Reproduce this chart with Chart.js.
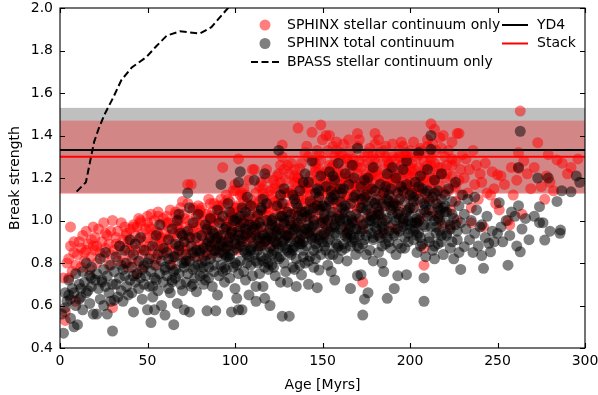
<!DOCTYPE html>
<html>
<head>
<meta charset="utf-8">
<script src="https://cdn.jsdelivr.net/npm/chart.js@4.4.1/dist/chart.umd.min.js"></script>
<style>
  html, body { margin: 0; padding: 0; background: #fff; }
</style>
</head>
<body>
<canvas id="myChart" width="598" height="395"></canvas>
<script>
// SPHINX stellar continuum only (red)
const stellarAge = [
  2,3,3,4,5,5,6,6,7,8,9,9,
  10,11,12,12,13,14,15,15,16,17,18,18,19,19,
  20,21,21,22,23,24,25,25,26,27,28,28,29,29,30,
  30,31,32,33,33,34,35,35,36,37,37,38,38,39,39,40,40,
  41,41,42,43,43,44,45,45,46,46,47,47,48,48,49,49,50,50,44,
  51,51,52,52,53,53,54,54,55,55,56,56,57,57,58,58,59,59,60,60,55,
  61,61,62,62,63,63,64,64,65,65,66,66,67,67,68,68,69,69,70,70,64,67,70,
  71,71,72,72,73,73,73,74,74,75,75,76,76,77,77,78,78,79,79,80,80,72,75,78,80,
  81,81,82,82,83,83,84,84,85,85,86,86,87,87,88,88,89,89,90,90,82,84,86,88,90,85,87,
  91,91,92,92,93,93,94,94,95,95,96,96,97,97,98,98,99,99,100,100,93,95,97,99,92,94,96,98,100,
  101,101,102,102,102,103,103,104,104,105,105,106,106,107,107,108,108,109,109,110,110,101,103,105,107,109,104,106,108,110,103,
  111,111,111,112,112,113,113,114,114,115,115,116,116,117,117,118,118,118,119,119,120,120,112,114,116,118,120,113,115,117,119,
  121,121,122,122,123,123,124,124,124,125,125,126,126,127,127,127,128,128,129,129,130,130,121,123,125,127,129,122,124,126,128,130,126,
  131,131,132,132,133,133,134,134,135,135,136,136,136,137,137,138,138,139,139,140,140,140,131,133,135,137,139,132,134,136,138,140,134,
  141,141,142,142,143,143,144,144,145,145,146,146,147,147,148,148,149,149,149,150,150,142,144,146,148,150,141,143,145,147,149,145,147,
  151,151,152,152,152,153,153,154,154,155,155,156,156,157,157,158,158,159,159,160,160,151,153,155,157,159,152,154,156,158,160,156,158,
  161,161,162,162,163,163,164,164,165,165,166,166,167,167,168,168,169,169,170,170,170,162,164,166,168,170,161,163,165,167,169,
  171,171,172,172,173,173,174,174,175,175,176,176,177,177,178,178,179,179,180,180,171,173,175,177,179,172,174,176,178,180,173,
  181,181,182,182,183,183,184,184,185,185,186,186,187,187,188,188,189,189,190,190,182,184,186,188,190,181,185,187,189,
  191,191,192,192,193,193,194,194,195,195,196,196,197,197,198,198,198,199,199,200,200,192,194,196,198,200,193,195,197,
  201,201,202,202,203,203,204,204,205,205,206,206,207,207,208,208,208,209,209,210,210,202,204,206,208,210,205,
  211,211,212,212,212,213,213,214,214,215,215,216,216,217,217,218,218,219,219,220,220,214,216,218,212,
  221,222,222,223,224,224,225,226,226,227,228,228,229,229,230,223,227,
  231,232,233,234,235,236,237,238,239,240,235,
  241,242,243,244,246,247,248,249,250,
  251,252,254,256,257,258,259,
  261,262,262,263,264,265,267,269,
  271,273,275,277,278,279,280,
  282,284,287,290,292,296,
  42,46,52,56,61,66,71,76,81,86,
  91,96,101,106,111,116,121,126,131,136,
  141,146,151,156,161,166,171,176,181,186,
  191,196,201,206,211,216,221,226,98,104,
  114,124,134,144,154,164,174,184,194,204,
  214,224,58,68,78,88,118,128,138,148,
  158,168,178,188,198,208,
  8,14,20,26,32,38,44,50,56,62,
  68,74,80,86,92,98,104,110,116,122,
  128,134,140,146,152,158,164,170,176,182,
  188,194,200,206,212,218,224,100,130,160,
  190,210,150,170,180,200
];
const stellarBreak = [
  0.73,0.53,0.57,0.80,0.82,0.73,0.97,0.88,0.76,0.85,0.62,0.79,
  0.84,0.90,0.78,0.87,0.93,0.81,0.86,0.95,0.89,0.77,0.91,0.83,0.97,0.88,
  0.92,0.80,0.88,0.96,0.85,0.90,0.83,0.99,0.87,0.93,0.79,0.89,0.95,0.84,0.59,
  1.00,0.86,0.92,0.81,0.95,0.88,0.84,0.99,0.91,0.97,0.80,0.87,0.93,0.78,0.90,0.85,0.96,
  0.89,0.82,0.98,0.86,0.93,0.80,0.91,1.01,0.87,0.99,0.84,0.94,0.90,0.78,0.96,0.86,0.92,1.02,0.75,
  0.88,0.97,0.83,1.03,0.93,0.86,1.00,0.90,0.82,0.95,0.88,1.04,0.92,0.85,0.98,0.89,1.01,0.84,0.94,0.87,0.79,
  0.91,1.02,0.86,0.97,0.93,1.05,0.89,0.82,0.99,0.94,0.87,1.03,0.92,0.84,1.00,0.96,0.88,1.06,0.93,0.85,0.79,0.97,1.09,
  0.90,1.03,0.86,0.97,1.17,0.93,1.08,0.88,1.00,1.17,0.84,0.95,1.05,0.91,0.99,0.87,1.02,0.94,1.07,0.89,0.98,0.81,0.92,0.83,1.04,
  0.93,1.06,0.88,1.00,0.95,0.85,1.03,0.91,0.98,1.10,0.87,0.96,1.04,0.90,0.99,1.08,0.86,0.94,1.07,0.92,0.83,0.97,1.01,0.89,1.00,0.93,0.84,
  0.95,1.05,0.89,1.00,1.25,0.93,1.08,0.87,0.98,1.12,0.91,1.03,0.96,1.09,0.88,1.01,0.94,1.14,0.99,1.06,0.85,0.97,0.92,1.04,1.10,0.90,1.00,0.95,1.17,
  0.97,1.07,1.29,0.91,1.02,1.12,0.88,0.99,1.05,0.94,1.15,1.01,0.90,1.08,0.96,1.19,0.93,1.03,1.10,0.98,1.24,0.86,1.00,1.09,0.92,0.95,1.13,1.06,1.01,0.89,0.94,
  1.24,0.98,1.06,0.92,1.13,1.02,0.95,1.09,0.88,1.00,1.18,0.94,1.05,1.11,0.97,1.24,1.03,0.91,1.08,0.99,1.14,0.93,1.01,1.16,0.89,1.06,1.02,0.96,1.10,0.90,1.04,
  1.00,1.12,0.94,1.07,1.17,0.97,1.21,1.03,0.90,1.10,0.99,1.05,1.15,1.355,1.30,0.95,1.08,1.01,1.19,0.92,1.04,1.13,0.88,1.09,1.22,1.02,0.98,1.15,0.96,1.11,1.06,0.93,1.26,
  1.06,0.96,1.14,1.01,1.09,0.93,1.18,1.03,1.18,0.99,1.435,1.11,1.05,1.245,0.97,1.15,1.07,1.02,1.12,1.32,1.08,0.94,1.22,1.13,1.04,0.91,1.17,1.27,0.98,1.20,1.10,1.03,1.24,
  1.10,0.99,1.16,1.04,1.21,0.95,1.415,1.08,1.13,1.02,1.25,1.07,1.19,0.97,1.24,1.11,1.45,1.285,1.05,1.14,1.00,1.30,1.18,0.92,1.06,1.22,1.35,1.12,1.28,1.09,1.17,1.01,1.33,
  1.12,1.01,1.40,1.21,1.07,1.16,0.96,1.40,1.10,1.25,1.04,1.19,1.13,1.08,1.30,1.37,1.15,1.02,1.23,1.11,1.28,0.93,1.33,1.18,1.20,1.06,0.98,1.26,1.35,1.09,1.17,1.00,1.22,
  1.14,1.03,1.24,1.09,1.18,0.97,1.29,1.12,1.06,1.21,1.33,1.15,1.01,1.19,1.26,1.08,1.13,0.99,1.41,1.22,1.05,1.36,0.94,1.27,1.17,1.10,1.31,1.20,1.38,1.11,1.16,
  1.17,1.06,1.25,1.11,0.71,1.20,1.14,1.30,1.09,1.22,1.02,1.27,1.16,1.34,1.12,1.04,1.23,1.18,1.29,1.08,1.38,0.96,1.15,1.21,1.31,1.00,1.19,1.13,1.26,1.36,1.10,
  1.15,1.27,1.05,1.21,1.32,1.10,1.18,1.01,1.24,1.13,1.35,1.07,1.20,1.28,1.16,0.97,1.11,1.25,1.19,1.30,1.38,0.94,1.14,1.22,1.09,1.03,1.33,1.17,1.06,
  1.20,1.08,1.29,1.14,1.03,1.24,1.17,1.33,1.11,1.26,1.00,1.19,1.31,1.13,1.32,1.22,1.05,1.16,1.28,1.10,1.25,0.96,1.21,1.35,1.15,1.18,1.07,1.37,1.23,
  1.16,1.27,1.37,1.06,1.21,1.12,1.30,0.99,1.18,1.25,1.09,1.33,1.14,1.22,0.87,0.79,1.28,1.04,1.19,1.11,1.35,1.24,1.15,1.01,1.20,1.26,1.31,
  1.23,1.10,1.455,1.29,1.15,1.36,1.04,1.19,1.27,1.12,1.33,1.08,1.22,1.16,1.39,0.98,1.25,1.40,1.13,1.20,1.30,1.43,1.02,1.34,1.18,
  1.26,1.14,1.33,1.05,1.21,1.37,1.17,1.28,1.09,1.41,1.41,1.19,1.24,1.12,1.31,0.97,1.00,
  1.20,1.29,1.13,1.24,1.06,1.33,1.17,1.26,1.10,1.22,0.99,
  1.18,0.97,1.27,1.13,1.12,1.23,1.15,1.08,1.215,
  1.05,1.21,1.17,1.00,0.98,1.25,1.12,
  1.19,1.32,1.245,1.515,1.03,1.28,1.22,1.15,
  1.25,1.366,1.16,1.10,1.21,1.31,1.18,
  1.14,1.285,1.27,1.22,1.25,1.29,
  0.97,1.00,0.96,1.02,0.99,1.04,1.01,1.06,1.02,1.08,
  1.04,1.10,1.06,1.12,1.08,1.15,1.10,1.18,1.13,1.20,
  1.15,1.23,1.18,1.26,1.20,1.24,1.28,1.19,1.23,1.30,
  1.21,1.27,1.23,1.18,1.31,1.25,1.22,1.16,1.02,0.99,
  1.03,1.06,1.10,1.08,1.14,1.11,1.17,1.12,1.16,1.13,
  1.20,1.26,0.92,0.95,0.97,1.01,1.20,1.24,1.27,1.31,
  1.33,1.29,1.22,1.27,1.30,1.24,
  0.90,0.85,0.86,0.94,0.89,0.94,0.97,0.99,0.94,0.99,
  1.01,0.96,1.05,1.02,1.07,1.04,1.11,1.07,1.13,1.19,
  1.13,1.21,1.17,1.27,1.23,1.15,1.29,1.25,1.32,1.20,
  1.26,1.30,1.21,1.34,1.26,1.22,1.29,1.14,1.26,1.32,
  1.36,1.38,1.38,1.35,1.41,1.33
];

// SPHINX total continuum (grey/black)
const totalAge = [
  1,2,3,3,4,5,5,6,7,8,8,9,9,10,
  11,11,12,13,13,14,15,15,16,17,17,18,18,19,20,
  21,21,22,23,23,24,25,25,26,26,27,27,28,29,29,30,
  31,31,32,32,33,34,34,35,35,36,37,37,38,38,39,40,40,
  41,41,42,42,43,43,44,45,45,46,46,47,47,48,48,49,50,50,
  51,51,52,52,53,53,54,54,55,55,56,56,57,57,58,58,59,59,60,60,53,
  61,61,62,62,63,63,64,64,65,65,66,66,67,67,68,68,69,69,70,70,66,68,
  71,71,71,72,72,73,73,73,74,74,75,75,76,76,77,77,78,78,79,79,80,80,74,76,
  81,81,82,82,83,83,84,84,85,85,86,86,87,87,88,88,89,89,90,90,90,82,84,86,88,85,
  91,91,92,92,92,93,93,94,94,95,95,96,96,97,97,98,98,99,99,100,100,100,91,93,95,97,99,96,
  101,101,102,102,102,103,103,104,104,104,105,105,106,106,107,107,108,108,108,109,109,110,110,101,103,105,107,109,106,102,
  111,111,112,112,112,113,113,114,114,115,115,116,116,117,117,117,118,118,119,119,120,120,111,113,115,117,119,114,116,118,
  121,121,122,122,123,123,124,124,125,125,126,126,126,127,127,128,128,128,129,129,130,130,121,123,125,127,129,122,124,126,128,130,
  131,131,132,132,133,133,134,134,135,135,135,136,136,137,137,138,138,138,139,139,140,140,140,131,133,135,137,139,132,134,136,138,
  141,141,142,142,142,143,143,144,144,145,145,146,146,147,147,147,148,148,148,149,149,150,150,141,143,145,147,149,142,144,146,148,
  151,151,152,152,153,153,154,154,155,155,156,156,157,157,158,158,159,159,160,160,151,153,155,157,159,152,154,156,158,160,155,157,
  161,161,162,162,163,163,164,164,165,165,166,166,166,167,167,168,168,169,169,170,170,170,162,164,166,168,161,163,165,167,
  171,171,172,172,172,173,173,174,174,175,175,176,176,177,177,178,178,179,179,180,180,171,173,175,177,179,174,176,178,180,
  181,181,182,182,183,183,184,184,185,185,185,186,186,187,187,187,188,188,189,189,190,190,182,184,186,188,183,189,
  191,191,191,192,192,193,193,193,194,194,195,195,196,196,197,197,198,198,198,199,199,200,200,192,194,196,198,200,
  201,201,202,202,203,203,204,204,205,205,206,206,207,207,208,208,209,209,209,210,210,202,204,206,208,205,
  211,211,212,212,212,213,213,214,214,215,215,216,216,217,217,218,218,219,219,220,220,214,216,218,
  221,221,222,223,223,224,225,225,226,227,228,228,229,229,230,224,
  231,231,232,233,234,235,236,237,237,238,239,240,
  241,241,242,243,244,245,246,247,248,250,
  251,252,253,255,256,257,258,260,
  261,262,262,263,263,264,266,268,
  271,273,274,274,276,277,279,280,
  284,285.7,286,286.7,292,295,297,
  62,65,68,71,74,77,80,83,86,89,
  92,95,98,101,104,107,110,113,116,119,
  122,125,128,131,134,137,140,143,146,149,
  152,155,158,161,164,167,170,173,176,179,
  182,185,188,191,194,197,200,203,206,209,
  212,215,218,221,224,227,64,70,76,82,
  88,94,100,106,112,118,124,130,136,142,
  148,154,160,166,172,178,184,190,196,202,
  208,214,220,226,97,103,109,115,121,127,
  133,139,145,151,157,163,169,175,181,187,
  193,199,205,211,217,223,
  91,94,97,100,103,106,109,112,115,118,
  121,124,127,130,133,136,139,142,145,148,
  151,154,157,160,163,166,169,172,175,178,
  181,184,187,190,193,196,199,202,205,208,
  211,214,217,220,156,162,168,174,180,186,
  192,198,204,210,216,132,138,144,150,126,
  120,114,108,102,96,90,84,78,72,66,
  60,54,48,42,36,30,24,18,12,6
];
const totalBreak = [
  0.56,0.47,0.59,0.66,0.62,0.65,0.72,0.54,0.68,0.66,0.50,0.75,0.60,0.51,
  0.70,0.63,0.68,0.76,0.58,0.71,0.66,0.80,0.67,0.74,0.61,0.78,0.69,0.56,0.72,
  0.56,0.75,0.68,0.82,0.63,0.71,0.77,0.60,0.69,0.85,0.56,0.74,0.66,0.79,0.62,0.48,
  0.625,0.76,0.70,0.83,0.64,0.73,0.88,0.67,0.79,0.62,0.74,0.86,0.69,0.80,0.65,0.72,0.91,
  0.66,0.78,0.57,0.84,0.71,0.89,0.75,0.68,0.81,0.73,0.92,0.63,0.77,0.70,0.86,0.74,0.58,0.80,
  0.69,0.82,0.52,0.76,0.69,0.88,0.58,0.79,0.72,0.93,0.67,0.84,0.75,0.98,0.60,0.81,0.71,0.87,0.555,0.77,0.64,
  0.74,0.85,0.68,0.91,0.79,0.66,0.96,0.72,0.51,0.83,0.77,0.89,0.61,1.00,0.75,0.86,0.70,0.94,0.80,0.67,0.73,1.03,
  0.58,0.78,0.90,0.71,0.84,1.13,0.75,0.95,0.57,0.81,0.88,0.69,0.77,0.99,0.83,0.73,0.665,0.92,0.79,1.03,0.86,0.74,1.06,0.70,
  0.80,0.93,0.75,0.87,0.98,0.72,0.575,0.84,0.90,0.78,1.01,0.82,0.69,0.95,0.86,0.76,0.575,0.91,0.65,0.83,1.05,0.70,0.96,0.88,0.79,0.73,
  0.85,0.74,1.17,0.93,0.79,0.88,1.02,0.71,0.84,0.97,0.77,0.90,1.08,0.82,0.73,0.57,0.94,0.86,1.00,0.68,0.80,0.91,0.99,0.76,0.87,1.04,0.78,0.83,
  0.634,0.87,1.18,0.58,0.95,1.23,0.81,0.58,0.90,1.06,0.76,0.99,0.85,0.72,0.94,1.11,0.65,0.83,1.02,0.79,0.92,0.88,0.74,1.01,0.97,0.86,0.80,1.07,0.93,0.75,
  1.19,0.84,0.62,0.69,0.93,0.80,1.03,0.88,0.75,0.97,0.83,0.69,1.10,1.22,0.634,0.90,0.82,1.00,0.77,0.94,0.60,0.87,0.96,0.91,1.05,0.78,0.85,0.99,0.81,1.08,
  0.92,0.79,1.01,0.86,0.74,0.97,0.89,1.07,1.33,0.82,0.94,0.71,1.12,0.55,0.88,0.99,0.80,1.15,0.93,0.76,0.71,1.04,0.84,0.90,0.96,1.02,0.87,0.78,0.95,0.83,0.91,0.86,
  0.55,0.92,0.84,1.03,0.95,0.78,0.88,1.10,0.69,0.97,0.82,1.06,0.90,0.79,1.14,0.744,0.93,1.01,0.86,1.18,1.22,0.96,0.80,1.00,0.87,1.08,0.91,0.83,0.98,0.77,0.94,0.89,
  0.88,1.02,1.18,0.70,0.94,0.83,1.09,1.28,0.91,0.78,1.00,0.95,1.13,0.684,1.15,0.87,0.767,1.05,0.92,0.84,1.21,0.99,0.90,0.96,1.03,0.86,1.07,0.93,0.81,0.97,0.89,1.11,
  0.94,1.07,0.86,1.16,1.00,0.79,1.23,0.91,0.97,1.11,0.84,1.04,0.72,1.19,0.93,1.01,0.88,1.27,0.96,1.09,1.03,0.90,1.14,0.98,0.82,1.06,0.95,1.21,0.87,1.00,0.76,1.12,
  0.97,1.13,0.89,1.05,1.22,0.93,1.00,0.81,1.17,0.95,0.68,1.08,0.88,1.26,0.99,0.91,1.11,1.03,0.84,0.74,1.34,0.96,1.15,0.92,1.02,1.20,0.86,1.07,0.98,0.90,
  1.01,0.87,0.745,1.16,0.95,0.555,1.06,0.63,0.91,1.12,0.99,0.66,1.20,0.86,1.03,0.94,1.09,0.81,1.25,0.97,1.14,0.93,0.89,1.05,1.00,0.92,1.19,0.96,1.02,1.08,
  0.96,1.10,0.85,1.04,1.17,0.92,0.99,0.80,0.76,1.13,0.94,1.07,0.89,0.634,1.01,1.22,0.95,1.12,0.87,1.05,0.98,1.25,0.93,1.08,1.00,0.90,1.03,1.15,
  0.68,0.94,1.08,1.00,1.20,0.74,0.89,1.13,1.04,0.95,1.16,0.87,1.01,1.24,0.92,1.09,0.745,0.98,1.17,1.05,0.90,1.12,0.96,0.84,1.10,0.97,1.28,1.02,
  0.99,1.13,0.91,1.06,1.18,0.96,1.01,0.85,1.10,0.94,1.21,1.03,0.89,1.15,0.62,0.73,0.83,1.07,0.97,1.02,1.24,1.11,0.93,0.88,1.05,1.32,
  1.05,0.92,1.40,1.335,0.97,1.11,0.86,1.00,1.19,0.94,1.08,0.89,1.14,1.03,0.95,1.22,0.90,0.84,1.06,0.99,1.12,0.82,1.01,0.93,
  1.04,0.93,1.15,0.98,0.87,1.09,1.01,0.82,1.18,0.95,1.07,0.85,0.99,0.77,1.12,0.90,
  0.877,1.03,0.96,1.10,0.91,1.00,0.85,1.11,0.94,1.05,0.88,0.97,
  0.835,0.98,0.775,0.92,1.02,0.893,0.853,0.95,0.90,0.94,
  1.084,0.97,0.90,1.00,0.79,0.93,1.04,1.02,
  0.88,1.25,1.07,1.42,0.853,0.96,1.01,0.91,
  1.02,1.20,1.065,0.99,0.99,0.908,1.20,0.95,
  1.09,0.94,0.955,1.14,1.135,1.21,1.18,
  0.82,0.76,0.88,0.80,0.92,0.78,0.85,0.81,0.92,0.86,
  0.90,0.83,0.95,0.79,0.88,0.84,0.97,0.86,0.93,0.80,
  0.91,0.87,1.00,0.85,0.96,0.89,1.04,0.93,0.82,0.99,
  0.95,1.02,0.89,1.06,0.94,1.00,0.88,0.98,1.07,0.91,
  1.03,0.96,1.09,0.93,1.01,0.87,1.06,0.99,0.92,1.13,
  1.02,0.97,1.10,0.94,1.03,0.91,0.71,0.93,0.85,0.78,
  0.94,0.78,0.89,0.96,0.81,0.91,0.83,0.93,1.02,0.98,
  0.91,0.84,1.01,0.93,1.10,1.00,0.88,1.07,0.99,0.95,
  1.08,0.88,1.04,0.98,0.92,1.02,0.86,0.88,0.98,0.90,
  0.86,0.95,1.06,0.88,0.97,0.87,0.96,0.84,0.99,0.92,
  1.03,0.94,1.00,0.90,1.05,0.96,
  0.88,0.96,0.84,1.00,0.91,1.04,0.87,0.98,1.06,0.92,
  1.00,0.93,1.08,0.96,1.12,0.99,0.90,1.05,0.98,1.14,
  1.01,1.09,0.94,1.15,1.04,0.97,1.12,1.06,0.93,1.15,
  1.06,0.97,1.10,1.03,0.96,1.14,1.00,1.09,1.16,0.98,
  1.09,1.13,1.00,1.07,1.10,1.01,0.92,1.11,1.01,1.16,
  1.07,1.04,0.99,1.14,1.06,0.90,1.04,0.92,1.07,1.02,
  0.96,0.92,0.98,0.93,0.88,0.92,0.89,0.86,0.81,0.83,
  0.78,0.73,0.79,0.74,0.77,0.70,0.72,0.73,0.64,0.63
];

// BPASS stellar continuum only (dashed)
const bpassAge   = [9.5, 14.8, 17.5, 19.5, 22, 25.5, 30.5, 35, 41, 49.5, 55, 61, 68.5, 80, 86.5, 96, 105];
const bpassBreak = [1.136, 1.18, 1.29, 1.37, 1.43, 1.50, 1.58, 1.66, 1.72, 1.77, 1.82, 1.87, 1.89, 1.88, 1.91, 2.0, 2.08];

// horizontal reference levels and shaded ranges
const yd4Level = 1.332;
const stackLevel = 1.30;
const greyBand = [1.13, 1.53];
const redBand = [1.125, 1.47];

const xTicks = [0, 50, 100, 150, 200, 250, 300];

const toPoints = (xs, ys) => xs.map((x, i) => ({ x: x, y: ys[i] }));

Chart.defaults.font.family = '"DejaVu Sans", sans-serif';
Chart.defaults.font.size = 14;
Chart.defaults.color = '#000';

const FONT = '14px "DejaVu Sans", sans-serif';
const R = 5.5;

// bands behind the points, frame with inward ticks, and the legend
const decor = {
  id: 'decor',
  beforeDatasetsDraw(chart) {
    const { ctx, chartArea: a, scales: { y } } = chart;
    ctx.save();
    ctx.beginPath();
    ctx.rect(a.left, a.top, a.right - a.left, a.bottom - a.top);
    ctx.clip();
    const fill = (band, color) => {
      const top = y.getPixelForValue(band[1]);
      const bot = y.getPixelForValue(band[0]);
      ctx.fillStyle = color;
      ctx.fillRect(a.left, top, a.right - a.left, bot - top);
    };
    fill(greyBand, 'rgba(0,0,0,0.25)');
    fill(redBand, 'rgba(255,0,0,0.3)');
    ctx.restore();
  },
  afterDatasetsDraw(chart) {
    const { ctx, chartArea: a, scales: { x, y } } = chart;
    ctx.save();
    ctx.strokeStyle = '#000';
    ctx.lineWidth = 1.1;
    ctx.strokeRect(a.left, a.top, a.right - a.left, a.bottom - a.top);
    ctx.beginPath();
    x.ticks.forEach(t => {
      const px = Math.round(x.getPixelForValue(t.value)) + 0.5;
      ctx.moveTo(px, a.bottom); ctx.lineTo(px, a.bottom - 5);
      ctx.moveTo(px, a.top); ctx.lineTo(px, a.top + 5);
    });
    y.ticks.forEach(t => {
      const py = Math.round(y.getPixelForValue(t.value)) + 0.5;
      ctx.moveTo(a.left, py); ctx.lineTo(a.left + 5, py);
      ctx.moveTo(a.right, py); ctx.lineTo(a.right - 5, py);
    });
    ctx.stroke();
    ctx.restore();
  },
  afterDraw(chart) {
    const ctx = chart.ctx;
    ctx.save();
    ctx.font = FONT;
    ctx.textBaseline = 'middle';
    const rows = [25, 43.5, 62];
    // markers
    ctx.fillStyle = 'rgba(255,0,0,0.5)';
    ctx.beginPath(); ctx.arc(265, rows[0], R, 0, Math.PI * 2); ctx.fill();
    ctx.fillStyle = 'rgba(0,0,0,0.5)';
    ctx.beginPath(); ctx.arc(265, rows[1], R, 0, Math.PI * 2); ctx.fill();
    ctx.strokeStyle = '#000';
    ctx.lineWidth = 2;
    ctx.setLineDash([7, 3.5]);
    ctx.beginPath(); ctx.moveTo(251, rows[2]); ctx.lineTo(279, rows[2]); ctx.stroke();
    ctx.setLineDash([]);
    ctx.beginPath(); ctx.moveTo(502, rows[0]); ctx.lineTo(528, rows[0]); ctx.stroke();
    ctx.strokeStyle = 'rgb(255,0,0)';
    ctx.beginPath(); ctx.moveTo(502, rows[1]); ctx.lineTo(528, rows[1]); ctx.stroke();
    // labels
    ctx.fillStyle = '#000';
    ctx.fillText('SPHINX stellar continuum only', 287, rows[0]);
    ctx.fillText('SPHINX total continuum', 287, rows[1]);
    ctx.fillText('BPASS stellar continuum only', 287, rows[2]);
    ctx.fillText('YD4', 537, rows[0]);
    ctx.fillText('Stack', 537, rows[1]);
    ctx.restore();
  }
};

const ctx = document.getElementById('myChart').getContext('2d');
const myChart = new Chart(ctx, {
  type: 'scatter',
  data: {
    datasets: [
      {
        label: 'YD4',
        data: [{ x: 0, y: yd4Level }, { x: 300, y: yd4Level }],
        showLine: true, borderColor: '#000', borderWidth: 2,
        pointRadius: 0, order: 0, clip: 0
      },
      {
        label: 'Stack',
        data: [{ x: 0, y: stackLevel }, { x: 300, y: stackLevel }],
        showLine: true, borderColor: 'rgb(255,0,0)', borderWidth: 2,
        pointRadius: 0, order: 1, clip: 0
      },
      {
        label: 'BPASS stellar continuum only',
        data: toPoints(bpassAge, bpassBreak),
        showLine: true, borderColor: '#000', borderWidth: 2,
        borderDash: [7, 3.5], pointRadius: 0, order: 2, clip: 0
      },
      {
        label: 'SPHINX total continuum',
        data: toPoints(totalAge, totalBreak),
        backgroundColor: 'rgba(0,0,0,0.5)', borderWidth: 0,
        pointRadius: R, pointHoverRadius: R, order: 3, clip: 0
      },
      {
        label: 'SPHINX stellar continuum only',
        data: toPoints(stellarAge, stellarBreak),
        backgroundColor: 'rgba(255,0,0,0.5)', borderWidth: 0,
        pointRadius: R, pointHoverRadius: R, order: 4, clip: 0
      }
    ]
  },
  options: {
    responsive: false,
    animation: false,
    devicePixelRatio: 1,
    events: [],
    layout: { padding: { left: 0, right: 13, top: 8, bottom: 0 } },
    plugins: { legend: { display: false }, tooltip: { enabled: false } },
    scales: {
      x: {
        type: 'linear', min: 0, max: 300,
        afterBuildTicks: s => { s.ticks = xTicks.map(v => ({ value: v })); },
        ticks: { padding: 5, maxRotation: 0, callback: v => String(v) },
        grid: { display: false, drawTicks: false },
        border: { display: false },
        title: { display: true, text: 'Age [Myrs]', padding: { top: 4, bottom: 1 } },
        afterFit: s => { s.height = 47; s.paddingLeft = 0; s.paddingRight = 0; }
      },
      y: {
        min: 0.4, max: 2.0,
        ticks: { stepSize: 0.2, padding: 7, callback: v => v.toFixed(1) },
        grid: { display: false, drawTicks: false },
        border: { display: false },
        title: { display: true, text: 'Break strength', padding: { top: 7, bottom: 0 } },
        afterFit: s => { s.width = 60; s.paddingTop = 0; s.paddingBottom = 0; }
      }
    }
  },
  plugins: [decor]
});
</script>
</body>
</html>
